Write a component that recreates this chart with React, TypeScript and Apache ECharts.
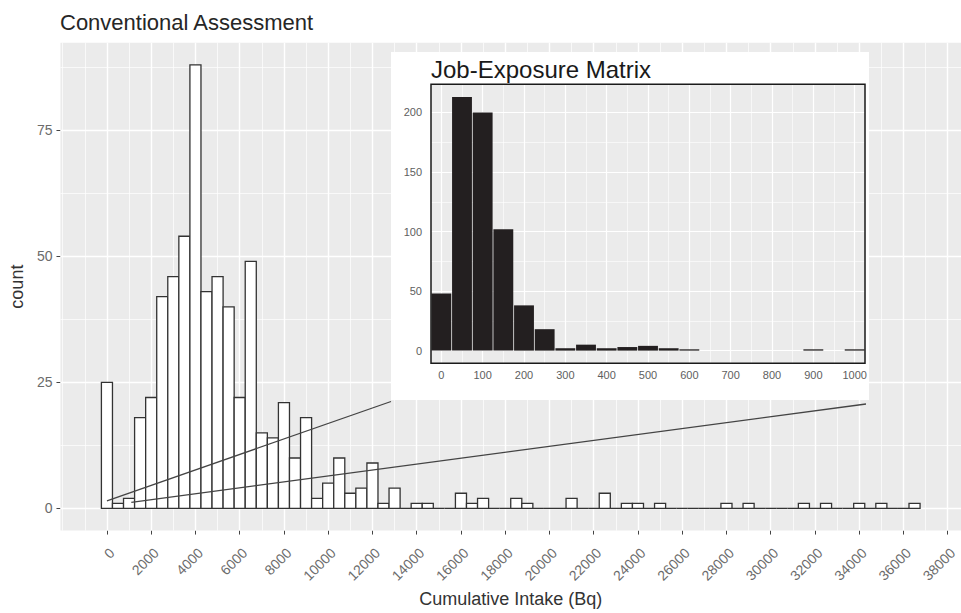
import React, { useEffect, useRef } from "react";
import * as echarts from "echarts";

const mainTitle = "Conventional Assessment";
const insetTitle = "Job-Exposure Matrix";
const xAxisTitle = "Cumulative Intake (Bq)";
const yAxisTitle = "count";

// Main histogram: bins of 500 Bq centred on 0, 500, 1000, ...
const mainBinWidth = 500;
const mainCounts = [
  25, 1, 2, 18, 22, 42, 46, 54, 88, 43, 46, 40, 22, 49, 15, 14, 21, 10, 18, 2,
  5, 10, 3, 4, 9, 1, 4, 0, 1, 1, 0, 0, 3, 1, 2, 0, 0, 2, 1, 0,
  0, 0, 2, 0, 0, 3, 0, 1, 1, 0, 1, 0, 0, 0, 0, 0, 1, 0, 1, 0,
  0, 0, 0, 1, 0, 1, 0, 0, 1, 0, 1, 0, 0, 1,
];
const mainXTicks = [
  0, 2000, 4000, 6000, 8000, 10000, 12000, 14000, 16000, 18000, 20000, 22000,
  24000, 26000, 28000, 30000, 32000, 34000, 36000, 38000,
];
const mainXMinor = [
  -2000, -1000, 1000, 3000, 5000, 7000, 9000, 11000, 13000, 15000, 17000, 19000,
  21000, 23000, 25000, 27000, 29000, 31000, 33000, 35000, 37000,
];
const mainYTicks = [0, 25, 50, 75];
const mainYMinor = [12.5, 37.5, 62.5, 87.5];

// Inset histogram: bins of 50 centred on 0, 50, 100, ...
const insetBinWidth = 50;
const insetCounts = [48, 213, 200, 102, 38, 18, 2, 5, 2, 3, 4, 2, 1, 0, 0, 0, 0, 0, 1, 0, 1];
const insetXTicks = [0, 100, 200, 300, 400, 500, 600, 700, 800, 900, 1000];
const insetXMinor = [50, 150, 250, 350, 450, 550, 650, 750, 850, 950];
const insetYTicks = [0, 50, 100, 150, 200];
const insetYMinor = [25, 75, 125, 175];

// points on the main chart from which the zoom lines start
const zoomAnchors = [
  [0, 1.5],
  [1100, 1.2],
];

const FONT = "Liberation Sans";

// inset panel placement (pixels)
const INSET = { left: 431, top: 84.3, width: 434, height: 279 };

function lineSeries(idx: number, xMajor: number[], xMinor: number[], yMajor: number[], yMinor: number[], majorW: number, minorW: number, z: number) {
  const mk = (key: string, vals: number[], w: number) =>
    vals.map((v) => ({ [key]: v, lineStyle: { color: "#ffffff", width: w, type: "solid" } }));
  return {
    type: "line",
    xAxisIndex: idx,
    yAxisIndex: idx,
    z,
    silent: true,
    data: [],
    showSymbol: false,
    markLine: {
      z,
      silent: true,
      symbol: ["none", "none"],
      label: { show: false },
      emphasis: { disabled: true },
      animation: false,
      data: [
        ...mk("xAxis", xMinor, minorW),
        ...mk("yAxis", yMinor, minorW),
        ...mk("xAxis", xMajor, majorW),
        ...mk("yAxis", yMajor, majorW),
      ],
    },
  };
}

export default function App() {
  const ref = useRef<HTMLDivElement>(null);

  useEffect(() => {
    if (!ref.current) return;
    const chart = echarts.init(ref.current, null, { renderer: "svg" });

    const mainData = mainCounts.map((c, i) => [i * mainBinWidth, c]);
    const insetData = insetCounts.map((c, i) => [i * insetBinWidth, c]);

    const fmt = (v: number) => String(v);

    const option: any = {
      animation: false,
      backgroundColor: "#ffffff",
      textStyle: { fontFamily: FONT },
      title: [
        {
          text: mainTitle,
          left: 60,
          top: 11,
          padding: 0,
          textStyle: { fontSize: 22, fontWeight: "normal", color: "#262626", fontFamily: FONT },
        },
        {
          text: insetTitle,
          left: 431,
          top: 57,
          padding: 0,
          z: 10,
          textStyle: { fontSize: 24, fontWeight: "normal", color: "#1a1a1a", fontFamily: FONT },
        },
      ],
      grid: [
        {
          left: 59,
          top: 42.7,
          width: 910.5,
          height: 494,
          show: true,
          backgroundColor: "#EBEBEB",
          borderWidth: 0,
          z: 0,
        },
        {
          left: INSET.left,
          top: INSET.top,
          width: INSET.width,
          height: INSET.height,
          show: true,
          backgroundColor: "#EBEBEB",
          borderWidth: 0,
          z: 5,
        },
      ],
      xAxis: [
        {
          type: "value",
          gridIndex: 0,
          min: -2100,
          max: 38600,
          name: xAxisTitle,
          nameLocation: "middle",
          nameGap: 59,
          nameTextStyle: { fontSize: 18, color: "#333333", fontFamily: FONT },
          axisLine: { show: false, onZero: false },
          axisTick: { show: true, length: 4, customValues: mainXTicks, lineStyle: { color: "#444444" } },
          axisLabel: {
            customValues: mainXTicks,
            rotate: 45,
            margin: 15,
            align: "right",
            verticalAlign: "top",
            fontSize: 14,
            color: "#6b6b6b",
            formatter: fmt,
          },
          splitLine: { show: false },
        },
        {
          type: "value",
          gridIndex: 1,
          min: -25,
          max: 1025,
          z: 8,
          axisLine: { show: false, onZero: false },
          axisTick: { show: false, customValues: insetXTicks },
          axisLabel: { customValues: insetXTicks, margin: 6, fontSize: 11, color: "#5e5e5e", formatter: fmt },
          splitLine: { show: false },
        },
      ],
      yAxis: [
        {
          type: "value",
          gridIndex: 0,
          min: -4.4,
          max: 92.4,
          name: yAxisTitle,
          nameLocation: "middle",
          nameGap: 23,
          nameRotate: 90,
          nameTextStyle: { fontSize: 18, color: "#333333", fontFamily: FONT },
          axisLine: { show: false, onZero: false },
          axisTick: { show: true, length: 4, customValues: mainYTicks, lineStyle: { color: "#444444" } },
          axisLabel: { customValues: mainYTicks, margin: 8, fontSize: 14, color: "#6b6b6b", formatter: fmt },
          splitLine: { show: false },
        },
        {
          type: "value",
          gridIndex: 1,
          min: -10.65,
          max: 223.65,
          z: 8,
          axisLine: { show: false, onZero: false },
          axisTick: { show: false, customValues: insetYTicks },
          axisLabel: { customValues: insetYTicks, margin: 9, fontSize: 11, color: "#5e5e5e", formatter: fmt },
          splitLine: { show: false },
        },
      ],
      series: [
        lineSeries(0, mainXTicks, mainXMinor, mainYTicks, mainYMinor, 1.4, 0.7, 1),
        {
          type: "custom",
          name: "Conventional Assessment",
          xAxisIndex: 0,
          yAxisIndex: 0,
          z: 2,
          encode: { x: 0, y: 1 },
          data: mainData,
          renderItem: (params: any, api: any) => {
            const x = api.value(0);
            const c = api.value(1);
            const p0 = api.coord([x - mainBinWidth / 2, c]);
            const p1 = api.coord([x + mainBinWidth / 2, 0]);
            if (c === 0) {
              return {
                type: "line",
                shape: { x1: p0[0], y1: p1[1], x2: p1[0], y2: p1[1] },
                style: { stroke: "#333333", lineWidth: 1.3 },
              };
            }
            return {
              type: "rect",
              shape: { x: p0[0], y: p0[1], width: p1[0] - p0[0], height: p1[1] - p0[1] },
              style: { fill: "#ffffff", stroke: "#333333", lineWidth: 1.3 },
            };
          },
        },
        lineSeries(1, insetXTicks, insetXMinor, insetYTicks, insetYMinor, 1.2, 0.6, 6),
        {
          type: "custom",
          name: "Job-Exposure Matrix",
          xAxisIndex: 1,
          yAxisIndex: 1,
          z: 7,
          encode: { x: 0, y: 1 },
          data: insetData,
          renderItem: (params: any, api: any) => {
            const x = api.value(0);
            const c = api.value(1);
            if (c === 0) return null;
            const p0 = api.coord([x - insetBinWidth / 2, c]);
            const p1 = api.coord([x + insetBinWidth / 2, 0]);
            const h = Math.max(p1[1] - p0[1], 1.3);
            return {
              type: "rect",
              shape: { x: p0[0] + 0.4, y: p1[1] - h, width: p1[0] - p0[0] - 0.8, height: h },
              style: { fill: "#231f20" },
            };
          },
        },
      ],
    };

    chart.setOption(option);

    const a0 = chart.convertToPixel({ gridIndex: 0 }, zoomAnchors[0]) as number[];
    const a1 = chart.convertToPixel({ gridIndex: 0 }, zoomAnchors[1]) as number[];

    chart.setOption({
      graphic: [
        {
          id: "zoomLine1",
          type: "line",
          z: 3,
          silent: true,
          shape: { x1: a0[0], y1: a0[1], x2: 391, y2: 401.5 },
          style: { stroke: "#444444", lineWidth: 1.3 },
        },
        {
          id: "zoomLine2",
          type: "line",
          z: 3,
          silent: true,
          shape: { x1: a1[0], y1: a1[1], x2: 866, y2: 404 },
          style: { stroke: "#444444", lineWidth: 1.3 },
        },
        {
          id: "insetBox",
          type: "rect",
          z: 4,
          silent: true,
          shape: { x: 391, y: 52, width: 478, height: 348 },
          style: { fill: "#ffffff" },
        },
        {
          id: "insetBorder",
          type: "rect",
          z: 9,
          silent: true,
          shape: { x: INSET.left, y: INSET.top, width: INSET.width, height: INSET.height },
          style: { fill: "none", stroke: "#1a1a1a", lineWidth: 1.5 },
        },
      ],
    });

    return () => {
      chart.dispose();
    };
  }, []);

  return (
    <div
      ref={ref}
      style={{ position: "fixed", left: 0, top: 0, width: 961, height: 613, background: "#fff" }}
    />
  );
}
